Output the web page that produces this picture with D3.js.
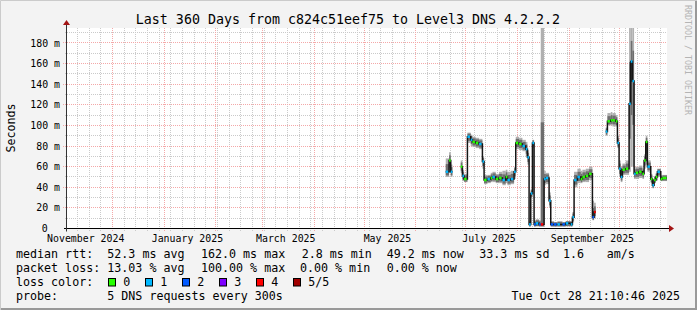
<!DOCTYPE html>
<html>
<head>
<meta charset="utf-8">
<title></title>
<script src="https://cdnjs.cloudflare.com/ajax/libs/d3/7.8.5/d3.min.js"></script>
<style>
body { margin: 0; background: #f3f3f3; }
svg { display: block; font-family: "DejaVu Sans Mono", monospace; }
text { white-space: pre; }
</style>
</head>
<body>
<script>
const width = 697, height = 310;
const plotL = 67, plotR = 667, plotT = 28, plotB = 228.5;

// time window (360 days)
const startTime = new Date(Date.UTC(2024, 10, 3, 18));
const endTime = new Date(Date.UTC(2025, 9, 29, 18));

// rrd samples
const dates = [
  '2025-06-19','2025-06-21','2025-06-22','2025-06-23','2025-06-28','2025-06-29','2025-06-30',
  '2025-07-02','2025-07-04','2025-07-05','2025-07-07','2025-07-09','2025-07-11','2025-07-12',
  '2025-07-14','2025-07-16','2025-07-17','2025-07-19','2025-07-21','2025-07-23','2025-07-25',
  '2025-07-26','2025-07-28','2025-07-30','2025-07-31','2025-08-02','2025-08-04','2025-08-06',
  '2025-08-07','2025-08-08','2025-08-09','2025-08-10','2025-08-11','2025-08-12','2025-08-14',
  '2025-08-15','2025-08-17','2025-08-18','2025-08-20','2025-08-21','2025-08-23','2025-08-25',
  '2025-08-28','2025-08-30','2025-09-02','2025-09-03','2025-09-04','2025-09-06','2025-09-08',
  '2025-09-09','2025-09-11','2025-09-13','2025-09-15','2025-09-16','2025-09-17','2025-09-23',
  '2025-09-24','2025-09-26','2025-09-27','2025-09-29','2025-09-30','2025-10-01','2025-10-02',
  '2025-10-03','2025-10-05','2025-10-07','2025-10-08','2025-10-09','2025-10-10','2025-10-11',
  '2025-10-13','2025-10-15','2025-10-16','2025-10-17','2025-10-18','2025-10-20','2025-10-21',
  '2025-10-22','2025-10-23','2025-10-24','2025-10-26','2025-10-27','2025-10-28'
];
const median = [
  55,66,55,null,60,51,48,
  89,86,84,83,82,65,47,
  48,49,50,48,49,47,50,
  47,48,55,83,82,80,77,
  69,4,34,83,4,5,4,
  4,48,49,27,4,4,4,
  4,5,4,11,47,50,48,
  50,51,53,11,16,null,94,
  104,105,105,104,83,58,50,
  57,58,121,162,143,53,54,
  55,53,66,84,60,48,42,
  47,50,55,48,49,49
];
const low = [
  50,54,50,null,54,46,45,
  83,80,79,78,77,58,43,
  44,45,45,44,44,42,44,
  42,43,48,77,76,75,70,
  62,2,30,78,2,2,2,
  2,42,43,20,2,2,2,
  2,2,2,6,40,44,44,
  45,45,47,8,10,null,90,
  100,100,99,99,78,50,45,
  52,52,55,60,60,48,48,
  49,48,58,62,55,44,39,
  44,46,50,46,46,46
];
const high = [
  68,74,62,null,66,57,53,
  93,91,89,88,87,70,52,
  52,54,55,53,55,56,57,
  55,56,60,89,88,86,84,
  76,7,38,86,8,9,8,
  200,56,54,35,7,6,7,
  6,7,7,16,55,58,56,
  57,58,60,27,25,null,98,
  112,113,112,110,90,66,60,
  63,66,200,200,200,60,60,
  61,58,72,90,66,53,47,
  51,54,58,52,52,52
];
const loss = [
  1,0,1,null,0,1,0,
  1,1,0,0,1,1,0,
  1,0,1,0,0,1,0,
  1,1,1,0,0,1,1,
  1,1,1,1,2,1,2,
  4,1,1,1,2,2,1,
  2,1,1,1,1,1,0,
  0,0,0,2,4,null,1,
  0,0,0,0,1,1,1,
  0,0,1,1,1,1,0,
  0,0,0,0,1,0,1,
  0,0,1,0,0,0
];

const lossColors = ['#26ff00','#00b8ff','#0059ff','#7e00ff','#ff0000','#a10000'];
const lossLabels = ['0','1','2','3','4','5/5'];

const yTicks = [20,40,60,80,100,120,140,160,180];
const yMinor = [10,30,50,70,90,110,130,150,170,190];
const monthLabels = [
  ['2024-11-15','November 2024'],['2025-01-15','January 2025'],['2025-03-15','March 2025'],
  ['2025-05-15','May 2025'],['2025-07-15','July 2025'],['2025-09-15','September 2025']
];

const legendRtt = ['median rtt:','52.3 ms avg','162.0 ms max','2.8 ms min','49.2 ms now','33.3 ms sd','1.6','am/s'];
const legendLoss = ['packet loss:','13.03 % avg','100.00 % max','0.00 % min','0.00 % now'];
const rttX = [16,107.3,201,301.7,386.7,479.3,563,606.7];
const lossX = [16,107.3,201,300,386.7];

const parse = d3.utcParse('%Y-%m-%d');
const crisp = v => Math.round(v - 0.5) + 0.5;

const svg = d3.select('body').append('svg')
  .attr('width', width)
  .attr('height', height);

// background + frame
svg.append('rect').attr('width', width).attr('height', height).attr('fill', '#f3f3f3');
svg.append('path').attr('d', `M0.5,${height}V0.5H${width}`).attr('stroke', '#cbcbcb').attr('fill', 'none');
svg.append('path').attr('d', `M1,${height-1}H${width-1}V1`).attr('stroke', '#999').attr('stroke-width', 2).attr('fill', 'none');
svg.append('rect').attr('x', plotL).attr('y', plotT).attr('width', plotR - plotL).attr('height', plotB - plotT).attr('fill', '#fff');

const x = d3.scaleUtc().domain([startTime, endTime]).range([plotL, plotR]);
const y = d3.scaleLinear().domain([0, 194.5]).range([plotB, plotT]);

// grid
const grid = svg.append('g').attr('fill', 'none').attr('stroke-dasharray', '1,1').attr('shape-rendering', 'crispEdges');
const months = d3.utcMonth.range(startTime, endTime);
const weeks = d3.utcSunday.range(startTime, endTime).filter(w => w.getUTCDate() !== 1);

grid.selectAll('.vmin').data(weeks).enter().append('line')
  .attr('x1', d => crisp(x(d))).attr('x2', d => crisp(x(d)))
  .attr('y1', plotT).attr('y2', plotB + 2)
  .attr('stroke', '#cacaca');
grid.selectAll('.hmin').data(yMinor).enter().append('line')
  .attr('x1', plotL - 2).attr('x2', plotR)
  .attr('y1', d => crisp(y(d))).attr('y2', d => crisp(y(d)))
  .attr('stroke', '#cacaca');
grid.selectAll('.vmaj').data(months).enter().append('line')
  .attr('x1', d => crisp(x(d))).attr('x2', d => crisp(x(d)))
  .attr('y1', plotT).attr('y2', plotB + 3)
  .attr('stroke', '#f4a8a8');
grid.selectAll('.hmaj').data(yTicks).enter().append('line')
  .attr('x1', plotL - 4).attr('x2', plotR)
  .attr('y1', d => crisp(y(d))).attr('y2', d => crisp(y(d)))
  .attr('stroke', '#f4a8a8');

// data
const rows = dates.map((d, i) => ({t: parse(d), med: median[i], lo: low[i], hi: high[i], loss: loss[i]}));
rows.forEach((r, i) => { r.t1 = i < rows.length - 1 ? rows[i + 1].t : endTime; });
const valid = rows.filter(r => r.med != null);

svg.append('clipPath').attr('id', 'clip').append('rect')
  .attr('x', plotL).attr('y', plotT).attr('width', plotR - plotL).attr('height', plotB - plotT);
const data = svg.append('g').attr('clip-path', 'url(#clip)');

data.selectAll('.smoke').data(valid).enter().append('rect')
  .attr('x', d => x(d.t)).attr('width', d => x(d.t1) - x(d.t))
  .attr('y', d => y(d.hi)).attr('height', d => y(d.lo) - y(d.hi))
  .attr('fill', '#b0b0b0');
data.selectAll('.smoke2').data(valid).enter().append('rect')
  .attr('x', d => x(d.t)).attr('width', d => x(d.t1) - x(d.t))
  .attr('y', d => y((d.med + d.hi) / 2) - 1).attr('height', d => y((d.lo + d.med) / 2) - y((d.med + d.hi) / 2) + 2)
  .attr('fill', '#6e6e6e');

const segs = [];
let cur = null;
rows.forEach(r => {
  if (r.med == null) { cur = null; return; }
  if (!cur) { cur = []; segs.push(cur); }
  cur.push(r);
});
const line = d3.line().curve(d3.curveStepAfter);
segs.forEach(s => {
  const pts = s.map(r => [x(r.t), y(r.med)]);
  const last = s[s.length - 1];
  pts.push([x(last.t1), y(last.med)]);
  data.append('path').attr('d', line(pts))
    .attr('fill', 'none').attr('stroke', '#151515').attr('stroke-width', 1.5);
});

data.selectAll('.lossmark').data(valid).enter().append('rect')
  .attr('x', d => x(d.t)).attr('width', d => Math.min(2.5, x(d.t1) - x(d.t)))
  .attr('y', d => y(d.med) - 1.25).attr('height', 2.5)
  .attr('fill', d => lossColors[d.loss]);

// axes
svg.append('line').attr('x1', plotL - 3).attr('x2', plotR + 3).attr('y1', plotB).attr('y2', plotB)
  .attr('stroke', '#000');
svg.append('line').attr('x1', plotL - 0.5).attr('x2', plotL - 0.5).attr('y1', plotB + 3).attr('y2', plotT - 4)
  .attr('stroke', '#333');
svg.append('path').attr('d', `M${plotR + 2},${plotB - 3.5}L${plotR + 7},${plotB}L${plotR + 2},${plotB + 3.5}Z`).attr('fill', '#a31515');
svg.append('path').attr('d', `M${plotL - 4},${plotT - 3}L${plotL - 0.5},${plotT - 8}L${plotL + 3},${plotT - 3}Z`).attr('fill', '#a31515');

const axisText = svg.append('g').attr('font-size', '9.9px').attr('fill', '#000');
axisText.selectAll('.yl').data(yTicks).enter().append('text')
  .attr('x', 60).attr('y', d => y(d) + 3.6).attr('text-anchor', 'end')
  .text(d => d + ' m');
axisText.append('text').attr('x', 47.7).attr('y', y(0) + 3.6).attr('text-anchor', 'end').text('0');
axisText.selectAll('.xl').data(monthLabels).enter().append('text')
  .attr('x', d => x(parse(d[0]))).attr('y', 241.5).attr('text-anchor', 'middle')
  .text(d => d[1]);

// titles
svg.append('text').attr('x', 348).attr('y', 23.5).attr('text-anchor', 'middle')
  .attr('font-size', '13.3px').text('Last 360 Days from c824c51eef75 to Level3 DNS 4.2.2.2');
svg.append('text').attr('transform', 'translate(15,128) rotate(-90)').attr('text-anchor', 'middle')
  .attr('font-size', '11.67px').text('Seconds');
svg.append('text').attr('transform', 'translate(685,5) rotate(90)')
  .attr('font-size', '8.3px').attr('fill', '#b4b4b4').text('RRDTOOL / TOBI OETIKER');

// legend
const legend = svg.append('g').attr('font-size', '11.67px').attr('fill', '#000');
legendRtt.forEach((t, i) => legend.append('text').attr('x', rttX[i]).attr('y', 257.8).text(t));
legendLoss.forEach((t, i) => legend.append('text').attr('x', lossX[i]).attr('y', 271.8).text(t));
legend.append('text').attr('x', 16).attr('y', 285.7).text('loss color:');
lossLabels.forEach((t, i) => {
  legend.append('rect').attr('x', 108.5 + i * 37).attr('y', 278.5).attr('width', 7).attr('height', 7.5)
    .attr('fill', lossColors[i]).attr('stroke', '#000');
  legend.append('text').attr('x', 123.3 + i * 37).attr('y', 285.7).text(t);
});
legend.append('text').attr('x', 16).attr('y', 299.5).text('probe:');
legend.append('text').attr('x', 107.3).attr('y', 299.5).text('5 DNS requests every 300s');
legend.append('text').attr('x', 680).attr('y', 299.5).attr('text-anchor', 'end').text('Tue Oct 28 21:10:46 2025');
</script>
</body>
</html>
